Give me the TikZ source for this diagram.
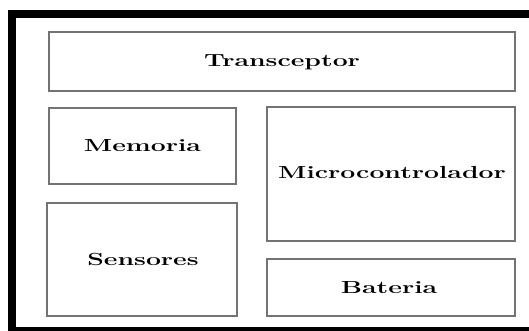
\documentclass[tikz,border=0pt]{standalone}
\usepackage{graphicx}
\begin{document}
\begin{tikzpicture}[x=1pt,y=-1pt,
  blockbox/.style={draw=black!55,line width=1.3pt,fill=white},
  lbl/.style={font=\fontsize{17.5}{21}\selectfont\bfseries}]
\useasboundingbox (0,0) rectangle (529,331);
\clip (0,0) rectangle (529,331);
\fill[white] (0,0) rectangle (529,331);
\draw[line width=7.8pt,black] (12,14) rectangle (545,331);
\newcommand{\wlbl}[1]{\scalebox{1.52}[1]{#1}}
\draw[blockbox] (49,32) rectangle (515,91);
\node[lbl] (trans) at (282,62) {\wlbl{Transceptor}};
\draw[blockbox] (49,108) rectangle (236,184);
\node[lbl] (mem) at (142.5,146) {\wlbl{Memoria}};
\draw[blockbox] (47,203) rectangle (237,316);
\node[lbl] (sens) at (143,259.5) {\wlbl{Sensores}};
\draw[blockbox] (267,107) rectangle (515,241);
\node[lbl] (micro) at (392,172) {\wlbl{Microcontrolador}};
\draw[blockbox] (267,259) rectangle (515,316);
\node[lbl] (bat) at (389,288) {\wlbl{Bateria}};
\end{tikzpicture}
\end{document}
